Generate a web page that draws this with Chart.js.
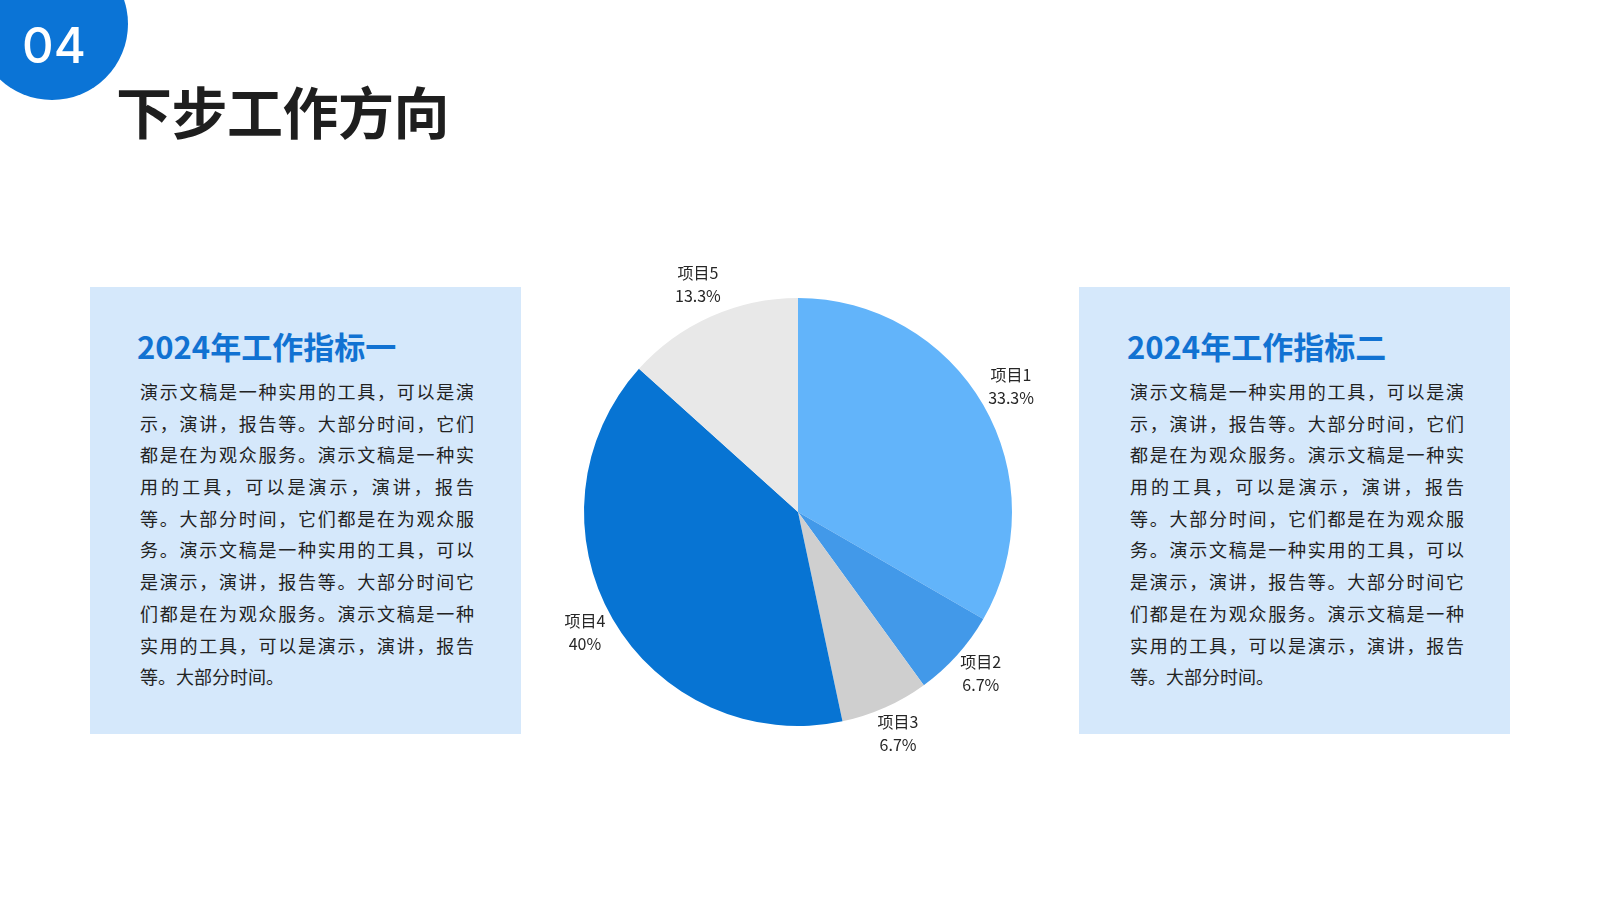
<!DOCTYPE html>
<html><head><meta charset="utf-8">
<script src="https://cdn.jsdelivr.net/npm/chart.js@4.4.1/dist/chart.umd.min.js"></script>
<style>
html,body{margin:0;padding:0;background:#fff;width:1600px;height:900px;overflow:hidden;font-family:"Noto Sans CJK SC","Noto Sans",sans-serif;}
.badge{position:absolute;left:-24px;top:-52px;width:152px;height:152px;border-radius:50%;background:#0B74D6;}
.badgeNum{position:absolute;left:9px;top:20px;width:90px;height:52px;line-height:52px;text-align:center;color:#fff;font-family:Inter,"Open Sans",sans-serif;font-weight:500;font-size:49px;}
.title{position:absolute;left:116px;top:80px;font-size:56px;line-height:60px;font-weight:700;color:#1e1e1e;letter-spacing:-0.5px;}
.box{position:absolute;top:287px;width:431px;height:447px;background:#D5E8FB;}
.boxTitle{position:absolute;top:325px;font-size:31px;line-height:42px;font-weight:700;color:#1172D2;}
.body{position:absolute;top:376px;width:334px;font-size:18px;color:#222;}
.body div{height:31.7px;line-height:31.7px;text-align:justify;text-align-last:justify;white-space:normal;word-break:keep-all;}
.body div.last{text-align-last:left;}
#wrap{position:absolute;left:477.5px;top:191.5px;width:640px;height:640px;}
</style></head><body>
<div class="badge"></div>
<div class="badgeNum">04</div>
<div class="title">下步工作方向</div>

<div class="box" style="left:90px"></div>
<div class="boxTitle" style="left:137px">2024年工作指标一</div>
<div class="body" id="bodyL" style="left:140px"></div>

<div class="box" style="left:1079px"></div>
<div class="boxTitle" style="left:1127px">2024年工作指标二</div>
<div class="body" id="bodyR" style="left:1130px"></div>

<div id="wrap"><canvas id="c" width="640" height="640"></canvas></div>

<script>
const categories = ["项目1","项目2","项目3","项目4","项目5"];
const values = [5, 1, 1, 6, 2];
const sliceColors = ["#62B4FA","#4299E9","#CFCFCF","#0774D3","#E8E8E8"];
const bodyLines = [
  "演示文稿是一种实用的工具，可以是演",
  "示，演讲，报告等。大部分时间，它们",
  "都是在为观众服务。演示文稿是一种实",
  "用的工具，可以是演示，演讲，报告",
  "等。大部分时间，它们都是在为观众服",
  "务。演示文稿是一种实用的工具，可以",
  "是演示，演讲，报告等。大部分时间它",
  "们都是在为观众服务。演示文稿是一种",
  "实用的工具，可以是演示，演讲，报告",
  "等。大部分时间。"
];

function fillBody(id){
  const el=document.getElementById(id);
  bodyLines.forEach((t,i)=>{
    const d=document.createElement('div');
    if(i===bodyLines.length-1) d.className='last';
    d.textContent=t.split('').join('\u200B');
    el.appendChild(d);
  });
}
fillBody('bodyL'); fillBody('bodyR');

const total = values.reduce((a,b)=>a+b,0);
const labelPlugin = {
  id:'outerLabels',
  afterDatasetsDraw(chart){
    const ctx=chart.ctx;
    const meta=chart.getDatasetMeta(0);
    ctx.save();
    ctx.font='16px "Noto Sans CJK SC", sans-serif';
    ctx.fillStyle='#262626';
    ctx.textAlign='center';
    ctx.textBaseline='middle';
    meta.data.forEach((arc,i)=>{
      const p=arc.getProps(['x','y','startAngle','endAngle','outerRadius'],true);
      const mid=(p.startAngle+p.endAngle)/2;
      const r=p.outerRadius+32;
      const lx=p.x+Math.cos(mid)*r;
      const ly=p.y+Math.sin(mid)*r-3;
      let pct=(values[i]/total*100).toFixed(1);
      if(pct.endsWith('.0')) pct=pct.slice(0,-2);
      ctx.fillText(categories[i],lx,ly-11.5);
      ctx.fillText(pct+'%',lx,ly+11.5);
    });
    ctx.restore();
  }
};

new Chart(document.getElementById('c'),{
  type:'pie',
  data:{labels:categories,datasets:[{data:values,backgroundColor:sliceColors,borderWidth:0}]},
  options:{
    responsive:false,
    animation:false,
    layout:{padding:106},
    plugins:{legend:{display:false},tooltip:{enabled:false}}
  },
  plugins:[labelPlugin]
});
</script>
</body></html>
